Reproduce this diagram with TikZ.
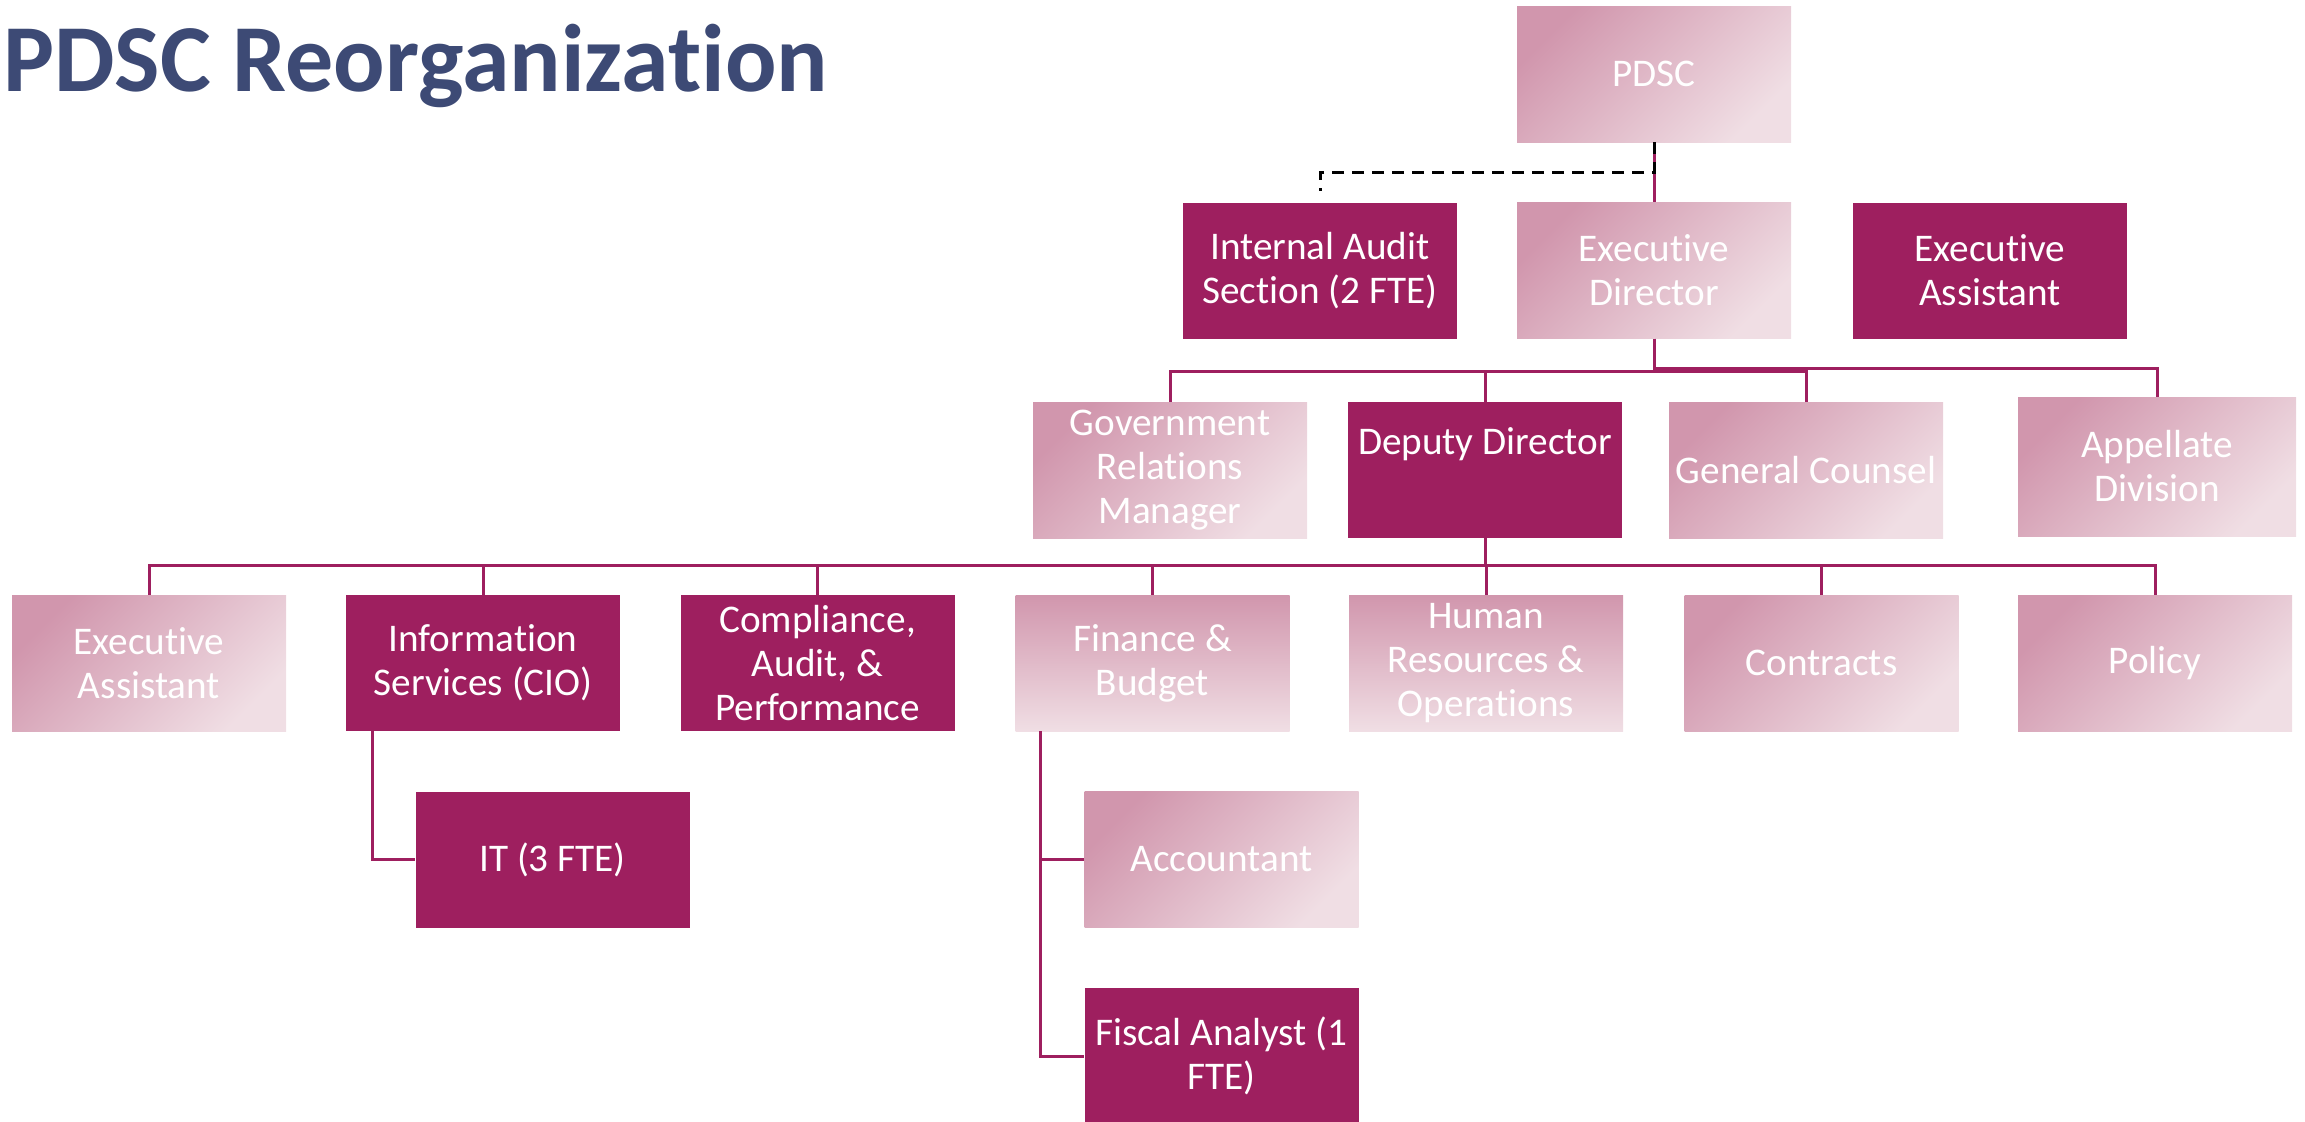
\documentclass[tikz,border=0pt]{standalone}
\usepackage{fontspec}
\setmainfont{Carlito}[Ligatures=NoCommon]
\usepackage{tikz}
\definecolor{plum}{HTML}{9E1F5F}
\definecolor{rosedark}{HTML}{D196AD}
\definecolor{roselight}{HTML}{F0DEE4}
\definecolor{titleblue}{HTML}{3D4A75}
\tikzset{
  unit/.style={rectangle, minimum width=137pt, minimum height=68pt, inner sep=1pt,
    text=white, align=center, font=\fontsize{19.6pt}{22pt}\selectfont},
  darkunit/.style={unit, fill=plum},
  paleunit/.style={unit, top color=rosedark, bottom color=roselight, shading angle=45},
  fadeunit/.style={unit, top color=rosedark, bottom color=roselight},
  link/.style={draw=plum, line width=1.5pt},
  dotted link/.style={draw=black, line width=1.5pt, dash pattern=on 6pt off 4pt}
}

\begin{document}
\begin{tikzpicture}[x=0.5pt,y=-0.5pt]
\useasboundingbox (0,0) rectangle (2305,1121);
\node[anchor=base west, inner sep=0pt, text=titleblue,
  font=\fontsize{48pt}{50pt}\selectfont\bfseries] (title) at (3,91) {PDSC Reorganization};

% top of the chart
\node[paleunit] (pdsc) at (1654,74) {PDSC};
\node[darkunit] (audit) at (1320,270.5) {Internal Audit\\Section (2 FTE)};
\node[paleunit] (execdir) at (1654,270.5) {Executive\\Director};
\node[darkunit] (execasst) at (1990,270.5) {Executive\\Assistant};

% second row
\node[paleunit] (govrel) at (1170,470) {Government\\Relations\\Manager};
\node[darkunit] (deputy) at (1485,470) {Deputy Director\\ \strut};
\node[paleunit] (counsel) at (1806,470) {General Counsel};
\node[paleunit, minimum width=139pt, minimum height=69.5pt] (appellate) at (2157,466.5) {Appellate\\Division};

% third row
\node[paleunit] (deputyasst) at (149,663) {Executive\\Assistant};
\node[darkunit] (infoserv) at (483,663) {Information\\Services (CIO)};
\node[darkunit] (compliance) at (817.5,663) {Compliance,\\Audit, \&\\Performance};
\node[fadeunit] (finance) at (1152.5,663) {Finance \&\\Budget};
\node[fadeunit] (hr) at (1486,663) {Human\\Resources \&\\Operations};
\node[paleunit] (contracts) at (1821.5,663) {Contracts};
\node[paleunit] (policy) at (2155,663) {Policy};

% fourth row
\node[darkunit] (it) at (552.5,859.5) {IT (3 FTE)};
\node[paleunit] (acct) at (1221.5,859.5) {Accountant};
\node[darkunit] (fiscal) at (1221.5,1056) {Fiscal Analyst (1\\FTE)};

\draw[link] (pdsc.south) -- (execdir.north);
\draw[dotted link, shorten >=5.5pt] (pdsc.south) -- ++(0,30) -| (audit.north);

\draw[link] (execdir.south) -- ++(0,33) -| (govrel.north);
\draw[link] (execdir.south) -- ++(0,33) -| (deputy.north);
\draw[link] (execdir.south) -- ++(0,33) -| (counsel.north);
\draw[link] (execdir.south) -- ++(0,30) -| (appellate.north);

\foreach \kid in {deputyasst,infoserv,compliance,finance,hr,contracts,policy}
  \draw[link] (deputy.south) -- ++(0,27) -| (\kid.north);

\draw[link] (infoserv.south west) ++(27,0) |- (it.west);
\draw[link] (finance.south west) ++(25,0) |- (acct.west);
\draw[link] (finance.south west) ++(25,0) |- (fiscal.west);
\end{tikzpicture}
\end{document}
